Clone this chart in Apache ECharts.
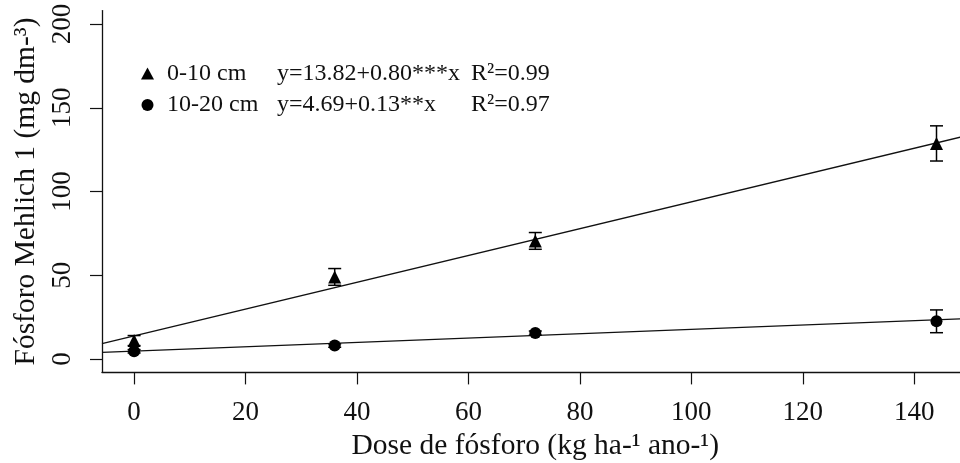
<!DOCTYPE html>
<html>
<head>
<meta charset="utf-8">
<script src="https://cdn.jsdelivr.net/npm/echarts@6/dist/echarts.min.js"></script>
<style>
  html, body { margin: 0; padding: 0; background: #fff; }
  #chart { width: 960px; height: 463px; }
</style>
</head>
<body>
<div id="chart"></div>
<script>
// Phosphorus dose (kg/ha/yr)
const doses = [0, 36, 72, 144];

// Layer names
const layers = ['0-10 cm', '10-20 cm'];

// Mehlich-1 P means and error-bar half widths per layer
const means0to10 = [11.0, 49.0, 70.5, 128.7];
const err0to10 = [3.0, 5.0, 5.0, 10.5];
const means10to20 = [4.6, 8.0, 15.5, 22.5];
const err10to20 = [1.0, 1.0, 1.2, 6.8];

// Fitted regressions y = a + b*x and their R²
const intercepts = [13.82, 4.69];
const slopes = [0.80, 0.13];
const eqLabels = ['y=13.82+0.80***x', 'y=4.69+0.13**x'];
const r2Labels = ['R²=0.99', 'R²=0.97'];

// Axis ticks
const xTicks = [0, 20, 40, 60, 80, 100, 120, 140];
const yTicks = [0, 50, 100, 150, 200];

const X_MIN = -5.76, X_MAX = 149.76;
const Y_MIN = -8, Y_MAX = 208;

const FONT = '"Liberation Serif", "DejaVu Serif", serif';
const INK = '#111';
const MARK = '#000';
const TICK_FONT = 27;
const TITLE_FONT = 29.5;
const LEGEND_FONT = 24;

function fitLine(i) {
  return [X_MIN, X_MAX].map(x => [x, intercepts[i] + slopes[i] * x]);
}

function errorSeries(means, errs) {
  return {
    type: 'custom',
    silent: true,
    z: 3,
    data: doses.map((d, i) => [d, means[i] - errs[i], means[i] + errs[i]]),
    renderItem: function (params, api) {
      const lo = api.coord([api.value(0), api.value(1)]);
      const hi = api.coord([api.value(0), api.value(2)]);
      const half = 6.5;
      const style = { stroke: MARK, lineWidth: 1.5 };
      return {
        type: 'group',
        children: [
          { type: 'line', shape: { x1: lo[0], y1: lo[1], x2: hi[0], y2: hi[1] }, style },
          { type: 'line', shape: { x1: lo[0] - half, y1: lo[1], x2: lo[0] + half, y2: lo[1] }, style },
          { type: 'line', shape: { x1: hi[0] - half, y1: hi[1], x2: hi[0] + half, y2: hi[1] }, style }
        ]
      };
    }
  };
}

const chart = echarts.init(document.getElementById('chart'), null, { renderer: 'canvas' });

const legendRich = {
  a: { width: 110, padding: [0, 0, 0, 8], lineHeight: 24, fontFamily: FONT, fontSize: LEGEND_FONT, color: INK },
  b: { width: 194, lineHeight: 24, fontFamily: FONT, fontSize: LEGEND_FONT, color: INK },
  c: { lineHeight: 24, fontFamily: FONT, fontSize: LEGEND_FONT, color: INK }
};

chart.setOption({
  backgroundColor: '#fff',
  animation: false,
  textStyle: { fontFamily: FONT, color: INK },
  grid: {
    left: 102, top: 10.6, width: 866.6, height: 361.8,
    containLabel: false,
    outerBoundsMode: 'none'
  },
  legend: {
    orient: 'vertical',
    left: 136,
    top: 56.5,
    itemGap: 7.5,
    itemWidth: 13,
    itemHeight: 12,
    selectedMode: false,
    data: [
      { name: layers[0], icon: 'triangle', itemStyle: { color: MARK, opacity: 1 } },
      { name: layers[1], icon: 'circle', itemStyle: { color: MARK, opacity: 1 } }
    ],
    formatter: function (name) {
      const i = layers.indexOf(name);
      return '{a|' + name + '}{b|' + eqLabels[i] + '}{c|' + r2Labels[i] + '}';
    },
    textStyle: {
      fontFamily: FONT,
      fontSize: LEGEND_FONT,
      color: INK,
      rich: legendRich
    }
  },
  xAxis: {
    type: 'value',
    min: X_MIN,
    max: X_MAX,
    splitLine: { show: false },
    axisLine: { onZero: false, lineStyle: { color: INK, width: 1.3 } },
    axisTick: { length: 12, customValues: xTicks, lineStyle: { color: INK, width: 1.2 } },
    axisLabel: { customValues: xTicks, margin: 27, fontSize: TICK_FONT, fontFamily: FONT, color: INK },
    name: 'Dose de fósforo (kg ha-¹ ano-¹)',
    nameLocation: 'middle',
    nameGap: 51,
    nameTextStyle: { fontSize: TITLE_FONT, fontFamily: FONT, color: INK }
  },
  yAxis: {
    type: 'value',
    min: Y_MIN,
    max: Y_MAX,
    splitLine: { show: false },
    axisLine: { show: true, onZero: false, lineStyle: { color: INK, width: 1.3 } },
    axisTick: { show: true, length: 12, customValues: yTicks, lineStyle: { color: INK, width: 1.2 } },
    axisLabel: { customValues: yTicks, rotate: 90, margin: 26, fontSize: TICK_FONT, fontFamily: FONT, color: INK },
    name: 'Fósforo Mehlich 1 (mg dm-³)',
    nameLocation: 'middle',
    nameGap: 53,
    nameTextStyle: { fontSize: TITLE_FONT, fontFamily: FONT, color: INK }
  },
  series: [
    {
      type: 'line',
      data: fitLine(0),
      symbol: 'none',
      silent: true,
      clip: true,
      lineStyle: { color: INK, width: 1.4 },
      z: 1
    },
    {
      type: 'line',
      data: fitLine(1),
      symbol: 'none',
      silent: true,
      clip: true,
      lineStyle: { color: INK, width: 1.4 },
      z: 1
    },
    errorSeries(means0to10, err0to10),
    errorSeries(means10to20, err10to20),
    {
      name: layers[0],
      type: 'scatter',
      symbol: 'triangle',
      symbolSize: 13,
      itemStyle: { color: MARK, opacity: 1 },
      data: doses.map((d, i) => [d, means0to10[i]]),
      z: 4
    },
    {
      name: layers[1],
      type: 'scatter',
      symbol: 'circle',
      symbolSize: 12,
      itemStyle: { color: MARK, opacity: 1 },
      data: doses.map((d, i) => [d, means10to20[i]]),
      z: 4
    }
  ]
});
</script>
</body>
</html>
